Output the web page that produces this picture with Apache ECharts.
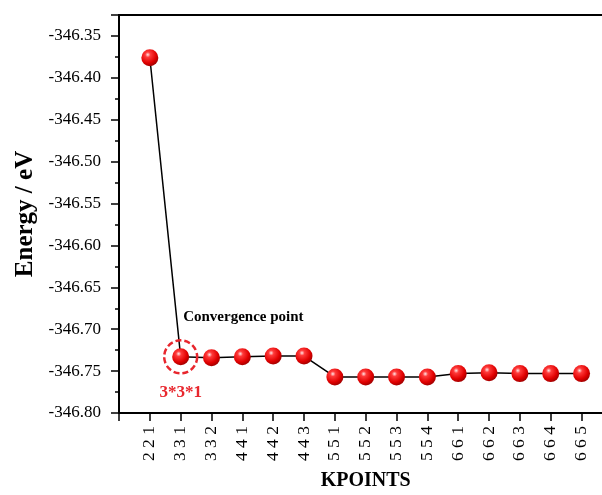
<!DOCTYPE html>
<html>
<head>
<meta charset="utf-8">
<script src="https://cdn.jsdelivr.net/npm/echarts@6/dist/echarts.min.js"></script>
<style>html,body{margin:0;padding:0;background:#fff;}#c{width:602px;height:495px;}</style>
</head>
<body>
<div id="c"></div>
<script>
const categories = ['2 2 1','3 3 1','3 3 2','4 4 1','4 4 2','4 4 3','5 5 1','5 5 2','5 5 3','5 5 4','6 6 1','6 6 2','6 6 3','6 6 4','6 6 5'];
const energies = [-346.376,-346.733,-346.734,-346.733,-346.732,-346.732,-346.757,-346.757,-346.757,-346.757,-346.753,-346.752,-346.753,-346.753,-346.753];
const convergenceIndex = 1;
const convergenceLabel = '3*3*1';
const convergenceText = 'Convergence point';
const convergenceTextY = -346.686;

const FONT = '"Liberation Serif", "Times New Roman", serif';
const RED = '#e8262d';
const chart = echarts.init(document.getElementById('c'), null, {renderer:'canvas'});
const seriesData = energies.map((v,i)=>[i+1, v]);
const ball = new echarts.graphic.RadialGradient(0.38, 0.32, 0.7, [
  {offset:0, color:'#ffe6e6'},
  {offset:0.22, color:'#ff3a3a'},
  {offset:0.7, color:'#e00000'},
  {offset:1, color:'#a00000'}
]);
chart.setOption({
  animation:false,
  backgroundColor:'#fff',
  grid:{left:119, top:15, bottom:82, width:493.4, outerBoundsMode:'none', containLabel:false,
        show:true, borderColor:'#000', borderWidth:2, backgroundColor:'transparent'},
  xAxis:{
    type:'value', min:0, max:16, interval:1,
    name:'KPOINTS', nameLocation:'middle', nameGap:58,
    nameTextStyle:{fontFamily:FONT, fontWeight:'bold', fontSize:20, color:'#000'},
    axisLine:{lineStyle:{color:'#000', width:2}},
    axisTick:{show:true, inside:false, length:8, lineStyle:{color:'#000', width:1.5}},
    splitLine:{show:false},
    axisLabel:{rotate:90, margin:13, fontFamily:FONT, fontSize:17.5, color:'#000',
      formatter:v=>categories[v-1]||''}
  },
  yAxis:{
    type:'value', min:-346.80, max:-346.325, interval:0.05,
    name:'Energy / eV', nameLocation:'middle', nameGap:80,
    nameTextStyle:{fontFamily:FONT, fontWeight:'bold', fontSize:25, color:'#000'},
    axisLine:{lineStyle:{color:'#000', width:2}},
    axisTick:{show:true, length:8, lineStyle:{color:'#000', width:1.5}},
    minorTick:{show:true, splitNumber:2, length:4, lineStyle:{color:'#000', width:1.5}},
    splitLine:{show:false},
    axisLabel:{margin:18, fontFamily:FONT, fontSize:17, color:'#000', showMaxLabel:false,
      formatter:v=>v.toFixed(2)}
  },
  series:[{
    type:'line',
    data:seriesData,
    symbol:'circle', symbolSize:17,
    lineStyle:{color:'#000', width:1.5},
    itemStyle:{color:ball, borderWidth:0},
    z:3,
    markPoint:{
      silent:true,
      data:[
        {coord:[convergenceIndex+1, energies[convergenceIndex]], symbol:'circle', symbolSize:33,
         itemStyle:{color:'rgba(0,0,0,0)', borderColor:RED, borderWidth:2.5, borderType:[6,3]},
         label:{show:true, position:'bottom', distance:9, formatter:convergenceLabel, color:RED, fontWeight:'bold', fontSize:17, fontFamily:FONT}},
        {coord:[convergenceIndex+1, convergenceTextY], symbol:'circle', symbolSize:1,
         itemStyle:{color:'rgba(0,0,0,0)'},
         label:{show:true, position:'right', distance:2, formatter:convergenceText, color:'#000', fontWeight:'bold', fontSize:15, fontFamily:FONT}}
      ]
    }
  }]
});
</script>
</body>
</html>
